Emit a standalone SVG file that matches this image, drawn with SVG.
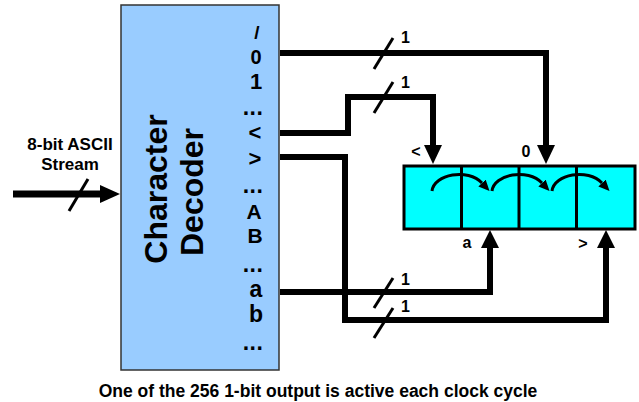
<svg xmlns="http://www.w3.org/2000/svg" width="639" height="402" viewBox="0 0 639 402">
<style>
  text { font-family: "Liberation Sans", Arial, sans-serif; font-weight: bold; fill: #000; }
  .wire { fill: none; stroke: #000; stroke-width: 6; stroke-linejoin: miter; }
  .slash { stroke: #000; stroke-width: 3; }
  .head { fill: #000; }
  .arc { fill: none; stroke: #000; stroke-width: 3; }
  .col { text-anchor: middle; }
  .dots { text-anchor: middle; font-size: 23px; letter-spacing: 0.5px; }
  .w1 { font-size: 16px; }
  .reg { font-size: 16px; text-anchor: middle; }
</style>
<defs>
  <marker id="ah" markerWidth="12" markerHeight="10" refX="0" refY="5" orient="auto" markerUnits="userSpaceOnUse">
    <path d="M0,0 L11,5 L0,10 z" fill="#000"/>
  </marker>
</defs>

<g id="decoder">
  <rect x="121" y="5" width="158" height="365" fill="#99CCFF" stroke="#333" stroke-width="1.5"/>
  <text transform="translate(167,189) rotate(-90)" text-anchor="middle" font-size="32">Character</text>
  <text transform="translate(203,192) rotate(-90)" text-anchor="middle" font-size="32">Decoder</text>
  <text class="col" x="257" y="39" font-size="19">/</text>
  <text class="col" x="256" y="64" font-size="20">0</text>
  <text class="col" x="256" y="89" font-size="22">1</text>
  <text class="dots" x="253" y="115">...</text>
  <text class="col" x="255" y="140" font-size="22">&lt;</text>
  <text class="col" x="255" y="166" font-size="22">&gt;</text>
  <text class="dots" x="253" y="193">...</text>
  <text class="col" x="254" y="219" font-size="21">A</text>
  <text class="col" x="255" y="243" font-size="21">B</text>
  <text class="dots" x="253" y="272">...</text>
  <text class="col" x="256" y="297" font-size="23">a</text>
  <text class="col" x="256" y="322" font-size="23">b</text>
  <text class="dots" x="253" y="350">...</text>
</g>

<g id="register">
  <rect x="404" y="166" width="231" height="63" fill="#00FFFF" stroke="#000" stroke-width="3"/>
  <line x1="461.5" y1="166" x2="461.5" y2="229" stroke="#000" stroke-width="3"/>
  <line x1="519" y1="166" x2="519" y2="229" stroke="#000" stroke-width="3"/>
  <line x1="576.5" y1="166" x2="576.5" y2="229" stroke="#000" stroke-width="3"/>
  <path class="arc" d="M432,191 C434,174 468,168 482,183" marker-end="url(#ah)"/>
  <path class="arc" d="M492,191 C494,174 528,168 542,183" marker-end="url(#ah)"/>
  <path class="arc" d="M552,191 C554,174 588,168 602,183" marker-end="url(#ah)"/>
  <text class="reg" x="416" y="157">&lt;</text>
  <text class="reg" x="526" y="157">0</text>
  <text class="reg" x="467" y="248">a</text>
  <text class="reg" x="583" y="249">&gt;</text>
</g>

<g id="input">
  <text x="70" y="150" text-anchor="middle" font-size="17">8-bit ASCII</text>
  <text x="70" y="170" text-anchor="middle" font-size="17">Stream</text>
</g>

<g id="caption">
  <text x="318" y="397" text-anchor="middle" font-size="17.5">One of the 256 1-bit output is active each clock cycle</text>
</g>

<g id="connectors">
  <!-- input stream -->
  <line x1="13" y1="194" x2="102" y2="194" stroke="#000" stroke-width="7"/>
  <polygon class="head" points="100,185 100,203 120,194"/>
  <line class="slash" x1="69" y1="211" x2="88" y2="179"/>

  <!-- "0" output -->
  <path class="wire" d="M280,53 H546 V147"/>
  <polygon class="head" points="537,145 555,145 546,164"/>
  <line class="slash" x1="374" y1="69" x2="393" y2="38"/>
  <text class="w1" x="401" y="43">1</text>

  <!-- "<" output -->
  <path class="wire" d="M280,133 H348 V97 H433 V147"/>
  <polygon class="head" points="424,145 442,145 433,164"/>
  <line class="slash" x1="374" y1="113" x2="393" y2="82"/>
  <text class="w1" x="401" y="88">1</text>

  <!-- ">" output -->
  <path class="wire" d="M280,157 H345 V320 H606 V247"/>
  <polygon class="head" points="597,248 615,248 606,230"/>
  <line class="slash" x1="374" y1="338" x2="393" y2="308"/>
  <text class="w1" x="401" y="312">1</text>

  <!-- "a" output -->
  <path class="wire" d="M280,292 H490 V247"/>
  <polygon class="head" points="481,248 499,248 490,230"/>
  <line class="slash" x1="374" y1="308" x2="393" y2="278"/>
  <text class="w1" x="401" y="285">1</text>
</g>
</svg>
